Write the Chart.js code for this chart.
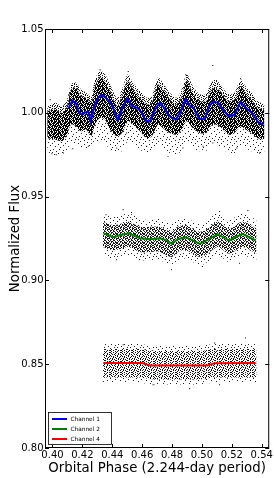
<!DOCTYPE html>
<html>
<head>
<meta charset="utf-8">
<script src="https://cdn.jsdelivr.net/npm/chart.js@4.4.0/dist/chart.umd.min.js"></script>
<style>
html, body { margin: 0; padding: 0; background: #fff; }
</style>
</head>
<body>
<canvas id="flux-chart" width="274" height="478"></canvas>
<script>
'use strict';

var xTicks = [0.40, 0.42, 0.44, 0.46, 0.48, 0.50, 0.52, 0.54];
var yTicks = [0.80, 0.85, 0.90, 0.95, 1.00, 1.05];
var channelNames = ['Channel 1', 'Channel 2', 'Channel 4'];
var channelColors = ['#0000ff', '#008000', '#ff0000'];

// fitted model curves
var fit1Phase = [0.4107, 0.4133, 0.4156, 0.4178, 0.4200, 0.4218, 0.4240, 0.4256, 0.4280, 0.4307,
    0.4329, 0.4358, 0.4389, 0.4411, 0.4436, 0.4473, 0.4500, 0.4529, 0.4569, 0.4596,
    0.4625, 0.4651, 0.4685, 0.4718, 0.4740, 0.4778, 0.4825, 0.4858, 0.4891, 0.4913,
    0.4945, 0.4980, 0.5018, 0.5051, 0.5073, 0.5107, 0.5136, 0.5180, 0.5218, 0.5258,
    0.5296, 0.5340, 0.5373, 0.5411];
var fit1Flux = [1.0028, 1.0073, 1.0058, 1.0002, 0.9988, 1.0002, 1.0008, 0.9948, 1.0038, 1.0094,
    1.0107, 1.0088, 1.0061, 1.0018, 0.9954, 1.0038, 1.0085, 1.0042, 1.0028, 1.0002,
    0.9952, 0.9948, 1.0018, 1.0061, 1.0038, 0.9982, 0.9958, 1.0008, 1.0082, 1.0048,
    1.0028, 0.9966, 0.9962, 1.0042, 1.0064, 1.0061, 1.0022, 0.9978, 0.9988, 1.0064,
    1.0028, 0.9994, 0.9948, 0.9928];
var fit2Phase = [0.4340, 0.4407, 0.4465, 0.4511, 0.4585, 0.4651, 0.4718, 0.4758, 0.4798, 0.4838,
    0.4891, 0.4931, 0.4985, 0.5038, 0.5105, 0.5183, 0.5271, 0.5360];
var fit2Flux = [0.9282, 0.9258, 0.9272, 0.9281, 0.9252, 0.9246, 0.9252, 0.9242, 0.9218, 0.9246,
    0.9257, 0.9242, 0.9218, 0.9242, 0.9276, 0.9238, 0.9278, 0.9238];
var fit4Phase = [0.4340, 0.4600, 0.4628, 0.4655, 0.5035, 0.5060, 0.5085, 0.5360];
var fit4Flux = [0.8507, 0.8507, 0.8499, 0.8492, 0.8492, 0.8499, 0.8506, 0.8507];

// measured point clouds: dense core and sparse halo edges
var cloud1Phase = [0.3965, 0.4018, 0.4065, 0.4098, 0.4125, 0.4158, 0.4191, 0.4225, 0.4258, 0.4285,
    0.4318, 0.4351, 0.4385, 0.4431, 0.4465, 0.4505, 0.4538, 0.4585, 0.4631, 0.4665,
    0.4705, 0.4738, 0.4785, 0.4831, 0.4865, 0.4898, 0.4938, 0.4985, 0.5025, 0.5058,
    0.5091, 0.5131, 0.5178, 0.5218, 0.5258, 0.5291, 0.5331, 0.5371, 0.5418];
var cloud1CoreHi = [1.001, 1.002, 1.000, 1.004, 1.014, 1.015, 1.010, 1.009, 1.006, 1.016,
    1.021, 1.019, 1.013, 1.004, 1.010, 1.019, 1.014, 1.009, 1.005, 1.006,
    1.017, 1.014, 1.008, 1.005, 1.010, 1.019, 1.012, 1.007, 1.007, 1.013,
    1.015, 1.012, 1.007, 1.008, 1.016, 1.012, 1.008, 1.003, 1.002];
var cloud1CoreLo = [0.985, 0.984, 0.983, 0.987, 0.993, 0.992, 0.989, 0.990, 0.986, 0.993,
    0.997, 0.996, 0.990, 0.986, 0.988, 0.995, 0.993, 0.989, 0.985, 0.986,
    0.993, 0.991, 0.988, 0.987, 0.990, 0.995, 0.991, 0.988, 0.988, 0.992,
    0.993, 0.991, 0.987, 0.988, 0.992, 0.990, 0.988, 0.985, 0.984];
var cloud1HaloHi = [1.004, 1.006, 1.004, 1.008, 1.017, 1.018, 1.014, 1.012, 1.010, 1.020,
    1.025, 1.023, 1.017, 1.009, 1.014, 1.023, 1.018, 1.013, 1.009, 1.010,
    1.021, 1.018, 1.012, 1.009, 1.014, 1.023, 1.016, 1.011, 1.011, 1.017,
    1.020, 1.016, 1.011, 1.012, 1.020, 1.016, 1.012, 1.007, 1.005];
var cloud1HaloLo = [0.976, 0.974, 0.975, 0.978, 0.982, 0.981, 0.979, 0.979, 0.978, 0.981,
    0.983, 0.982, 0.978, 0.977, 0.977, 0.983, 0.981, 0.978, 0.976, 0.977,
    0.981, 0.979, 0.976, 0.975, 0.978, 0.983, 0.979, 0.977, 0.977, 0.980,
    0.982, 0.979, 0.976, 0.976, 0.980, 0.979, 0.977, 0.976, 0.976];

var cloud2Phase = [0.4338, 0.4407, 0.4465, 0.4511, 0.4585, 0.4651, 0.4718, 0.4798, 0.4838, 0.4891,
    0.4985, 0.5038, 0.5105, 0.5183, 0.5271, 0.5365];
var cloud2CoreHi = [0.935, 0.933, 0.934, 0.935, 0.932, 0.932, 0.932, 0.929, 0.932, 0.933,
    0.929, 0.931, 0.935, 0.931, 0.935, 0.931];
var cloud2CoreLo = [0.920, 0.918, 0.919, 0.920, 0.917, 0.917, 0.917, 0.914, 0.917, 0.918,
    0.914, 0.916, 0.920, 0.916, 0.920, 0.916];
var cloud2HaloHi = [0.939, 0.938, 0.939, 0.940, 0.937, 0.936, 0.937, 0.934, 0.936, 0.937,
    0.934, 0.936, 0.940, 0.936, 0.940, 0.936];
var cloud2HaloLo = [0.915, 0.913, 0.914, 0.915, 0.912, 0.912, 0.912, 0.909, 0.912, 0.913,
    0.909, 0.911, 0.915, 0.911, 0.915, 0.911];

var cloud4Phase = [0.4338, 0.4580, 0.4660, 0.5000, 0.5080, 0.5365];
var cloud4CoreHi = [0.859, 0.859, 0.858, 0.858, 0.859, 0.859];
var cloud4CoreLo = [0.842, 0.842, 0.841, 0.841, 0.842, 0.842];
var cloud4HaloHi = [0.862, 0.862, 0.861, 0.861, 0.862, 0.862];
var cloud4HaloLo = [0.839, 0.839, 0.838, 0.838, 0.839, 0.839];

// isolated outlying measurements
var out1Phase = [0.3985, 0.3996, 0.4025, 0.4073, 0.4136, 0.4240, 0.4318, 0.4430, 0.4496, 0.4507,
    0.4630, 0.4773, 0.4873, 0.4891, 0.5007, 0.5073, 0.5073, 0.5233, 0.5258, 0.5385];
var out1Flux = [1.0078, 0.9755, 0.9750, 0.9760, 0.9785, 0.9800, 1.0257, 0.9790, 0.9879, 1.0246,
    0.9800, 0.9740, 0.9790, 1.0227, 0.9800, 0.9820, 1.0282, 0.9790, 1.0203, 0.9760];
var out2Phase = [0.4358, 0.4429, 0.4473, 0.4529, 0.4796, 0.5003, 0.5118, 0.5251, 0.5307];
var out2Flux = [0.9391, 0.9123, 0.9421, 0.9405, 0.9063, 0.9083, 0.9411, 0.9103, 0.9417];
var out4Phase = [0.4340, 0.4473, 0.4673, 0.4918, 0.5085, 0.5118, 0.5291];
var out4Flux = [0.8397, 0.8616, 0.8377, 0.8353, 0.8626, 0.8377, 0.8656];

var FONT = 'DejaVu Sans';

var makePattern = function(rows, color) {
    var c = document.createElement('canvas');
    c.width = rows[0].length;
    c.height = rows.length;
    var g = c.getContext('2d');
    g.fillStyle = color;
    rows.forEach(function(row, y) {
        row.split('').forEach(function(ch, x) {
            if (ch === '#') g.fillRect(x, y, 1, 1);
        });
    });
    return g.createPattern(c, 'repeat');
};

// stipple textures standing in for the individual measurements
var denseDots = makePattern([
    '##.###.##.#',
    '#.####.#.##',
    '.###.##.###',
    '##.#.###.#.',
    '#.###.#.###',
    '###.##.##.#',
    '.#.####.#.#',
    '##.#.#.###.',
    '#.###.##.##',
    '####.#.#.##',
    '.#.##.###.#'
], '#000');
var midDots = makePattern([
    '#.#..##.#',
    '.##.#..#.',
    '#..##.#.#',
    '.#.#..##.',
    '##..#.#.#',
    '..##.#..#',
    '#.#..##..',
    '.#.##..#.',
    '#..#.#.##'
], '#1a1a1a');
var mediumDots = makePattern([
    '#..#..#...#',
    '.#...#..#..',
    '..#.#...#.#',
    '#....#.#...',
    '.#.#...#..#',
    '...#.#...#.',
    '#.#...#.#..',
    '..#.#...#.#',
    '.#...##....',
    '#..#....#.#',
    '.#...#.#...'
], '#111');
var sparseDots = makePattern([
    '#............',
    '......#......',
    '...........#.',
    '...#.........',
    '........#....',
    '.............',
    '.#.....#.....',
    '...........#.',
    '....#........',
    '#.........#..',
    '......#......',
    '..#..........',
    '.........#...'
], '#222');

var toPoints = function(phase, flux) {
    return phase.map(function(p, i) {
        return { x: p, y: flux[i] };
    });
};

var fitSet = function(name, phase, flux, color) {
    return {
        label: name,
        data: toPoints(phase, flux),
        borderColor: color,
        borderWidth: 2,
        pointRadius: 0,
        fill: false,
        tension: 0
    };
};

var dotSet = function(phase, flux) {
    return {
        label: 'outliers',
        data: toPoints(phase, flux),
        showLine: false,
        pointStyle: 'rect',
        pointRadius: 0.7,
        pointBorderWidth: 0,
        pointBackgroundColor: '#000'
    };
};

var edgeSet = function(phase, flux, pattern) {
    return {
        label: 'cloud',
        data: toPoints(phase, flux),
        borderWidth: 0,
        borderColor: 'rgba(0,0,0,0)',
        pointRadius: 0,
        tension: 0.3,
        fill: pattern ? '-1' : false,
        backgroundColor: pattern || 'rgba(0,0,0,0)'
    };
};

var cloudSets = function(phase, haloHi, coreHi, coreLo, haloLo, corePattern, hiPattern) {
    return [
        edgeSet(phase, haloHi, null),
        edgeSet(phase, coreHi, hiPattern),
        edgeSet(phase, coreLo, corePattern),
        edgeSet(phase, haloLo, sparseDots)
    ];
};

var datasets = [
    fitSet(channelNames[0], fit1Phase, fit1Flux, channelColors[0]),
    fitSet(channelNames[1], fit2Phase, fit2Flux, channelColors[1]),
    fitSet(channelNames[2], fit4Phase, fit4Flux, channelColors[2]),
    dotSet(out1Phase, out1Flux),
    dotSet(out2Phase, out2Flux),
    dotSet(out4Phase, out4Flux)
].concat(
    cloudSets(cloud1Phase, cloud1HaloHi, cloud1CoreHi, cloud1CoreLo, cloud1HaloLo, denseDots, mediumDots),
    cloudSets(cloud2Phase, cloud2HaloHi, cloud2CoreHi, cloud2CoreLo, cloud2HaloLo, midDots, sparseDots),
    cloudSets(cloud4Phase, cloud4HaloHi, cloud4CoreHi, cloud4CoreLo, cloud4HaloLo, mediumDots, sparseDots)
);

// matplotlib style frame, inward ticks and the boxed legend
var framePlugin = {
    id: 'frame',
    afterDraw: function(chart) {
        var ctx = chart.ctx;
        var a = chart.chartArea;
        var xs = chart.scales.x, ys = chart.scales.y;
        ctx.save();
        ctx.strokeStyle = '#000';
        ctx.lineWidth = 1;
        ctx.strokeRect(a.left + 0.5, a.top + 0.5, a.right - a.left - 1, a.bottom - a.top - 1);
        ctx.beginPath();
        xTicks.forEach(function(v) {
            var px = Math.round(xs.getPixelForValue(v)) + 0.5;
            ctx.moveTo(px, a.bottom); ctx.lineTo(px, a.bottom - 4);
            ctx.moveTo(px, a.top); ctx.lineTo(px, a.top + 4);
        });
        yTicks.forEach(function(v) {
            var py = Math.round(ys.getPixelForValue(v)) + 0.5;
            ctx.moveTo(a.left, py); ctx.lineTo(a.left + 4, py);
            ctx.moveTo(a.right, py); ctx.lineTo(a.right - 4, py);
        });
        ctx.stroke();

        // legend
        var bx = 48.5, by = 412.5, bw = 63, bh = 32;
        ctx.fillStyle = '#fff';
        ctx.fillRect(bx, by, bw, bh);
        ctx.lineWidth = 0.8;
        ctx.strokeRect(bx, by, bw, bh);
        ctx.font = '5.8px "' + FONT + '"';
        ctx.textBaseline = 'middle';
        ctx.textAlign = 'left';
        channelNames.forEach(function(name, i) {
            var ry = 419 + i * 10;
            ctx.strokeStyle = channelColors[i];
            ctx.lineWidth = 2;
            ctx.beginPath();
            ctx.moveTo(52, ry);
            ctx.lineTo(67, ry);
            ctx.stroke();
            ctx.fillStyle = '#000';
            ctx.fillText(name, 70.5, ry);
        });
        ctx.restore();
    }
};

var ctx = document.getElementById('flux-chart').getContext('2d');
var fluxChart = new Chart(ctx, {
    type: 'line',
    data: { datasets: datasets },
    plugins: [framePlugin],
    options: {
        responsive: false,
        animation: false,
        devicePixelRatio: 1,
        layout: { padding: { left: 0, top: 29, right: 4, bottom: 0 } },
        plugins: {
            legend: { display: false },
            tooltip: { enabled: false }
        },
        scales: {
            x: {
                type: 'linear',
                min: 0.395,
                max: 0.545,
                afterBuildTicks: function(scale) {
                    scale.ticks = xTicks.map(function(v) { return { value: v }; });
                },
                afterFit: function(scale) { scale.height = 30; },
                grid: { display: false, drawTicks: false },
                border: { display: false },
                ticks: {
                    autoSkip: false,
                    maxRotation: 0,
                    padding: 1,
                    color: '#000',
                    font: { family: FONT, size: 10 },
                    callback: function(v) { return v.toFixed(2); }
                },
                title: {
                    display: true,
                    text: 'Orbital Phase (2.244-day period)',
                    color: '#000',
                    font: { family: FONT, size: 13.3 },
                    padding: { top: 0, bottom: 1.5 }
                }
            },
            y: {
                type: 'linear',
                min: 0.80,
                max: 1.05,
                afterBuildTicks: function(scale) {
                    scale.ticks = yTicks.map(function(v) { return { value: v }; });
                },
                afterFit: function(scale) { scale.width = 45; },
                grid: { display: false, drawTicks: false },
                border: { display: false },
                ticks: {
                    padding: 1.5,
                    color: '#000',
                    font: { family: FONT, size: 10 },
                    callback: function(v) { return v.toFixed(2); }
                },
                title: {
                    display: true,
                    text: 'Normalized Flux',
                    color: '#000',
                    font: { family: FONT, size: 13.3 },
                    padding: { top: 8, bottom: 0 }
                }
            }
        }
    }
});
</script>
</body>
</html>
